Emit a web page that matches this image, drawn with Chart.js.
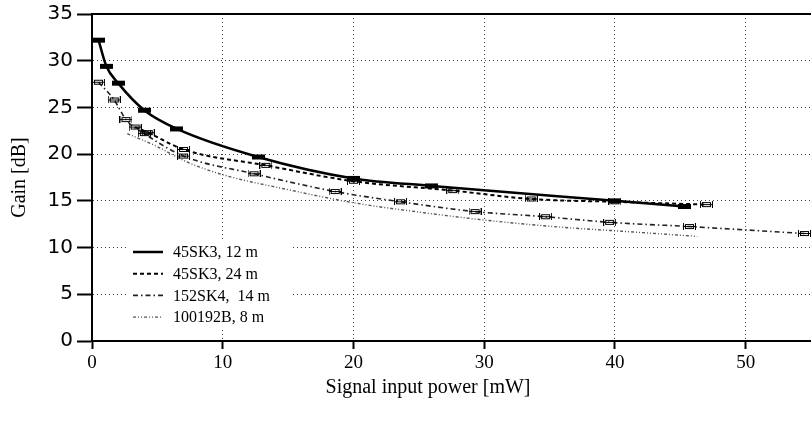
<!DOCTYPE html>
<html><head><meta charset="utf-8">
<script src="https://cdn.jsdelivr.net/npm/chart.js@4/dist/chart.umd.min.js"></script>
<style>html,body{margin:0;padding:0;background:#fff}#wrap{width:811px;height:424px}</style>
</head><body><div id="wrap"><canvas id="c" width="811" height="424"></canvas></div>
<script>
// ---- data ----
const seriesNames = ["45SK3, 12 m", "45SK3, 24 m", "152SK4,  14 m", "100192B, 8 m"];
const xTitle = "Signal input power [mW]";
const yTitle = "Gain [dB]";

const s1x = [0.5, 1.1, 2.0, 4.0, 6.5, 12.7, 20.0, 26.0, 40.0, 45.3];
const s1y = [32.2, 29.4, 27.6, 24.7, 22.7, 19.7, 17.4, 16.6, 15.0, 14.4];

const s2x = [3.3, 4.3, 7.0, 13.3, 20.0, 27.6, 33.6, 40.0, 47.0];
const s2y = [22.9, 22.3, 20.5, 18.8, 17.1, 16.1, 15.2, 14.9, 14.6];

const s3x = [0.5, 1.7, 2.6, 4.0, 7.0, 12.4, 18.6, 23.6, 29.3, 34.7, 39.6, 45.7, 54.5];
const s3y = [27.7, 25.8, 23.7, 22.2, 19.8, 17.9, 16.0, 14.9, 13.85, 13.3, 12.7, 12.25, 11.5];

const s4x = [2.7, 5.0, 7.2, 10.0, 15.0, 20.0, 25.0, 30.0, 35.7, 40.0, 46.3];
const s4y = [22.2, 20.8, 19.2, 17.8, 16.2, 14.8, 13.8, 12.95, 12.2, 11.8, 11.2];

const xTicks = [0, 10, 20, 30, 40, 50];
const yTicks = [0, 5, 10, 15, 20, 25, 30, 35];

// ---- marker images (horizontal error bar boxes) ----
function makeMark(filled) {
  const c = document.createElement('canvas');
  c.width = 13; c.height = 7;
  const g = c.getContext('2d');
  g.strokeStyle = '#000'; g.fillStyle = '#000'; g.lineWidth = 1;
  if (filled) {
    g.fillRect(0, 1, 13, 5);
  } else {
    g.strokeRect(2.5, 1.5, 8, 4);
    g.beginPath();
    g.moveTo(0.5, 0); g.lineTo(0.5, 7);
    g.moveTo(12.5, 0); g.lineTo(12.5, 7);
    g.moveTo(0, 3.5); g.lineTo(13, 3.5);
    g.stroke();
  }
  return c;
}
const markFilled = makeMark(true);
const markOpen = makeMark(false);

const pts = (xs, ys) => xs.map((x, i) => ({x: x, y: ys[i]}));

const legendPlugin = {
  id: 'inlineLegend',
  afterDatasetsDraw(chart) {
    const ctx = chart.ctx, a = chart.chartArea;
    const x0 = a.left + 41, len = 30, gap = 10, rowH = 21.7;
    const yTop = a.bottom - 89;
    ctx.save();
    ctx.fillStyle = '#fff';
    ctx.fillRect(a.left + 34, yTop - 10, 166, rowH * 3 + 20);
    chart.data.datasets.forEach((ds, i) => {
      const y = yTop + i * rowH;
      ctx.strokeStyle = ds.borderColor;
      ctx.lineWidth = ds.borderWidth;
      ctx.setLineDash(ds.borderDash || []);
      ctx.beginPath(); ctx.moveTo(x0, y); ctx.lineTo(x0 + len, y); ctx.stroke();
      ctx.setLineDash([]);
      ctx.fillStyle = '#000';
      ctx.font = '16px "Liberation Serif"';
      ctx.textBaseline = 'middle'; ctx.textAlign = 'left';
      ctx.fillText(ds.label, x0 + len + gap, y + 1);
    });
    ctx.restore();
  }
};

const xTitlePlugin = {
  id: 'xTitle',
  afterDraw(chart) {
    const ctx = chart.ctx, a = chart.chartArea;
    ctx.save();
    ctx.fillStyle = '#000';
    ctx.font = '20px "Liberation Serif"';
    ctx.textAlign = 'center'; ctx.textBaseline = 'middle';
    ctx.fillText(xTitle, a.left + 336, a.bottom + 47);
    ctx.restore();
  }
};

const common = {fill: false, tension: 0.4, cubicInterpolationMode: 'monotone', pointHoverRadius: 0};
const noPad = s => { s.paddingLeft = 0; s.paddingRight = 0; };

new Chart(document.getElementById('c'), {
  type: 'line',
  data: {
    datasets: [
      Object.assign({label: seriesNames[0], data: pts(s1x, s1y), borderColor: '#000', borderWidth: 2.5, borderDash: [], pointStyle: markFilled, pointRadius: 6}, common),
      Object.assign({label: seriesNames[1], data: pts(s2x, s2y), borderColor: '#000', borderWidth: 2, borderDash: [4, 3], pointStyle: markOpen, pointRadius: 6}, common),
      Object.assign({label: seriesNames[2], data: pts(s3x, s3y), borderColor: '#222', borderWidth: 1.6, borderDash: [5, 3, 1.5, 3], pointStyle: markOpen, pointRadius: 6}, common),
      Object.assign({label: seriesNames[3], data: pts(s4x, s4y), borderColor: '#555', borderWidth: 1.4, borderDash: [3, 2, 1, 2, 1, 2], pointRadius: 0}, common)
    ]
  },
  options: {
    responsive: false,
    animation: false,
    devicePixelRatio: 1,
    layout: {padding: 0, autoPadding: false},
    plugins: {legend: {display: false}, tooltip: {enabled: false}},
    scales: {
      x: {
        type: 'linear', position: 'bottom', min: 0, max: 55,
        afterFit: s => { s.height = 83; noPad(s); },
        afterBuildTicks: s => { s.ticks = xTicks.map(v => ({value: v})); },
        ticks: {font: {family: 'Liberation Serif', size: 19}, color: '#000', padding: 3, maxRotation: 0},
        grid: {color: 'rgba(0,0,0,0.75)', lineWidth: 1, tickColor: '#000', tickLength: 8, tickWidth: 2},
        border: {display: true, color: '#000', width: 2, dash: [1, 3]}
      },
      x2: {
        type: 'linear', position: 'top', min: 0, max: 55,
        afterFit: s => { s.height = 14; noPad(s); },
        ticks: {display: false},
        grid: {display: false, drawTicks: false},
        border: {display: true, color: '#000', width: 2}
      },
      y: {
        type: 'linear', position: 'left', min: 0, max: 35,
        afterFit: s => { s.width = 92; s.paddingTop = 0; s.paddingBottom = 0; },
        afterBuildTicks: s => { s.ticks = yTicks.map(v => ({value: v})); },
        ticks: {font: {family: 'DejaVu Sans', size: 20}, color: '#000', padding: 4},
        grid: {color: 'rgba(0,0,0,0.75)', lineWidth: 1, tickColor: '#000', tickLength: 15, tickWidth: 2},
        border: {display: true, color: '#000', width: 2, dash: [1, 3]},
        title: {display: true, text: yTitle, font: {family: 'Liberation Serif', size: 20}, color: '#000', padding: {top: 8, bottom: 0}}
      }
    }
  },
  plugins: [legendPlugin, xTitlePlugin]
});
</script>
</body></html>
